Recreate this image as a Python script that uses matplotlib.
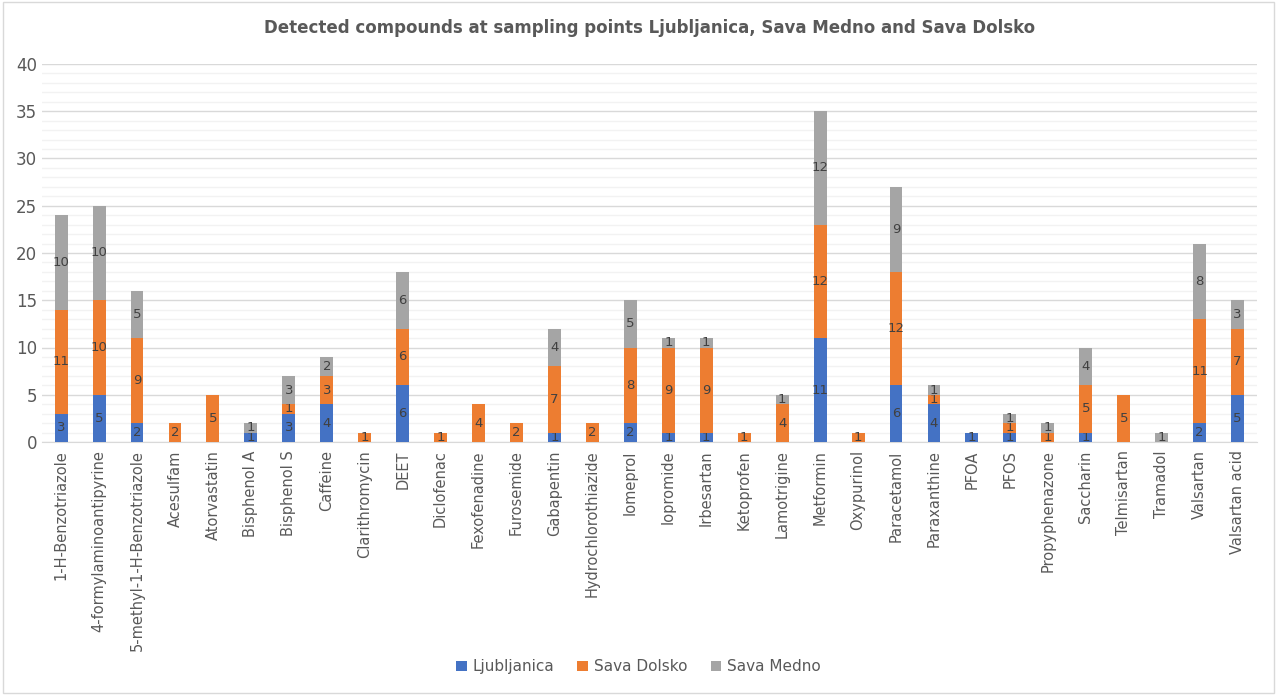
import numpy as np
import matplotlib.pyplot as plt
from matplotlib.patches import Rectangle

compounds = ["1-H-Benzotriazole", "4-formylaminoantipyrine", "5-methyl-1-H-Benzotriazole",
             "Acesulfam", "Atorvastatin", "Bisphenol A", "Bisphenol S", "Caffeine",
             "Clarithromycin", "DEET", "Diclofenac", "Fexofenadine", "Furosemide",
             "Gabapentin", "Hydrochlorothiazide", "Iomeprol", "Iopromide", "Irbesartan",
             "Ketoprofen", "Lamotrigine", "Metformin", "Oxypurinol", "Paracetamol",
             "Paraxanthine", "PFOA", "PFOS", "Propyphenazone", "Saccharin", "Telmisartan",
             "Tramadol", "Valsartan", "Valsartan acid"]
ljubljanica = [3, 5, 2, 0, 0, 1, 3, 4, 0, 6, 0, 0, 0, 1, 0, 2, 1, 1, 0, 0, 11, 0, 6, 4, 1, 1, 0, 1, 0, 0, 2, 5]
sava_dolsko = [11, 10, 9, 2, 5, 0, 1, 3, 1, 6, 1, 4, 2, 7, 2, 8, 9, 9, 1, 4, 12, 1, 12, 1, 0, 1, 1, 5, 5, 0, 11, 7]
sava_medno = [10, 10, 5, 0, 0, 1, 3, 2, 0, 6, 0, 0, 0, 4, 0, 5, 1, 1, 0, 1, 12, 0, 9, 1, 0, 1, 1, 4, 0, 1, 8, 3]

series = [("Ljubljanica", ljubljanica, "#4472C4"),
          ("Sava Dolsko", sava_dolsko, "#ED7D31"),
          ("Sava Medno", sava_medno, "#A5A5A5")]

fig = plt.figure(figsize=(12.77, 6.95), dpi=100)
fig.patches.append(Rectangle((0.002, 0.003), 0.996, 0.994, transform=fig.transFigure,
                             fill=False, edgecolor="#D9D9D9", linewidth=1))
ax = fig.add_axes([0.033, 0.364, 0.951, 0.544])

x = np.arange(len(compounds))
bottom = np.zeros(len(compounds))
for name, vals, color in series:
    vals = np.array(vals)
    bars = ax.bar(x, vals, width=0.34, bottom=bottom, color=color, label=name, zorder=3)
    labels = [str(v) if v > 0 else "" for v in vals]
    ax.bar_label(bars, labels=labels, label_type="center", fontsize=9.5, color="#404040")
    bottom += vals

ax.set_xlim(-0.5, len(compounds) - 0.5)
ax.set_ylim(0, 40)
ax.set_yticks(range(0, 41, 5))
ax.set_yticks(range(0, 41, 1), minor=True)
ax.grid(axis="y", which="major", color="#D9D9D9", linewidth=1, zorder=0)
ax.grid(axis="y", which="minor", color="#F2F2F2", linewidth=1, zorder=0)
ax.set_xticks(x)
ax.set_xticklabels(compounds, rotation=90, fontsize=10.5, color="#595959")
ax.tick_params(axis="y", which="both", length=0, labelsize=12, labelcolor="#595959")
ax.tick_params(axis="x", length=0, pad=6)
for s in ["top", "right", "left"]:
    ax.spines[s].set_visible(False)
ax.spines["bottom"].set_color("#D9D9D9")

ax.set_title("Detected compounds at sampling points Ljubljanica, Sava Medno and Sava Dolsko",
             fontsize=12, fontweight="bold", color="#595959", pad=22)

fig.legend(loc="lower center", bbox_to_anchor=(0.5, 0.01), ncol=3, frameon=False,
           fontsize=11, handlelength=0.7, handleheight=0.7, labelcolor="#595959",
           columnspacing=1.5, handletextpad=0.4)

fig.savefig("out.png", dpi=100)
